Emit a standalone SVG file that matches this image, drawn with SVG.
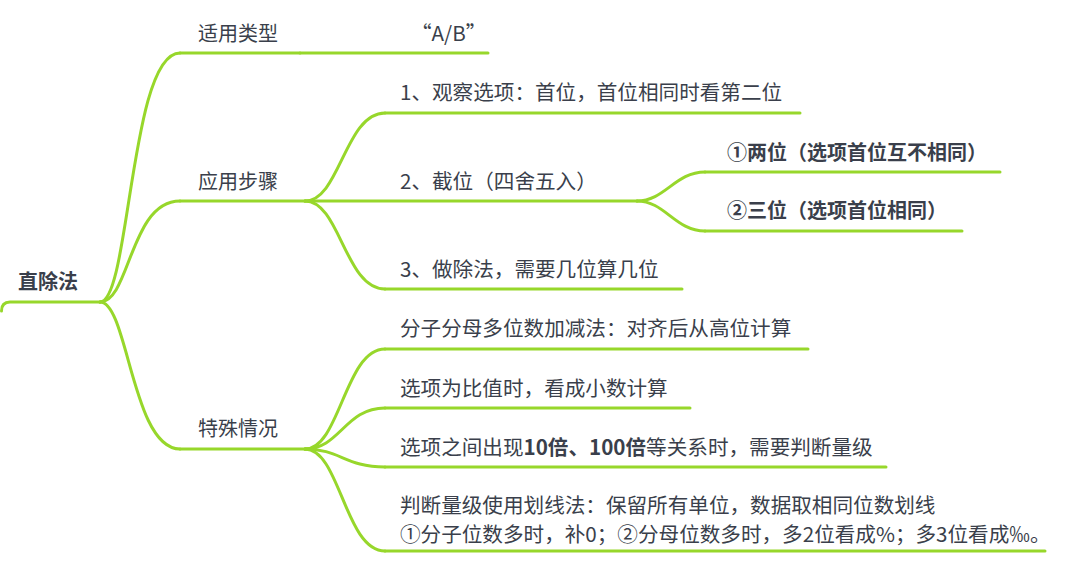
<svg xmlns="http://www.w3.org/2000/svg" width="1080" height="575" viewBox="0 0 1080 575">
<style>
.ln{fill:none;stroke:#97d72b;stroke-width:3;stroke-linecap:round}
text{font-family:"Microsoft YaHei","Noto Sans CJK SC","Noto Sans",sans-serif;fill:#3a3f4b}
.l1{font-size:20px}
.l2{font-size:20.6px}
.gc{font-size:20px;font-weight:bold}
.root{font-size:20px;font-weight:bold}
</style>
<rect width="1080" height="575" fill="#ffffff"/>
<g id="connectors">
<path class="ln" d="M100,302 C130,302 130,53 180,53"/>
<path class="ln" d="M100,302 C130,302 130,201 180,201"/>
<path class="ln" d="M100,302 C128,302 132,449 180,449"/>
<path class="ln" d="M305,201 C340,201 345,113 385,113"/>
<path class="ln" d="M305,201 C340,201 345,289 385,289"/>
<path class="ln" d="M637,201 C665,201 675,172 705,172"/>
<path class="ln" d="M637,201 C665,201 675,231 705,231"/>
<path class="ln" d="M305,449 C340,449 345,349 385,349"/>
<path class="ln" d="M305,449 C340,449 345,408 385,408"/>
<path class="ln" d="M305,449 C340,449 345,467 385,467"/>
<path class="ln" d="M305,449 C340,449 345,551 385,551"/>
</g>
<g id="root">
<path class="ln" d="M1.5,311 Q1.5,302 10,302 L100,302"/>
<text class="root" x="18" y="289">直除法</text>
</g>
<g id="n-type">
<path class="ln" d="M180,53 L300,53"/>
<text class="l1" x="198" y="41">适用类型</text>
</g>
<g id="n-ab">
<path class="ln" d="M300,53 L488,53"/>
<text class="l2" x="411" y="41">“A/B”</text>
</g>
<g id="n-steps">
<path class="ln" d="M180,201 L305,201"/>
<text class="l1" x="198" y="189">应用步骤</text>
</g>
<g id="n-step1">
<path class="ln" d="M385,113 L800,113"/>
<text class="l2" x="400" y="100">1、观察选项：首位，首位相同时看第二位</text>
</g>
<g id="n-step2">
<path class="ln" d="M305,201 L637,201"/>
<text class="l2" x="400" y="189">2、截位（四舍五入）</text>
</g>
<g id="n-two">
<path class="ln" d="M705,172 L1000,172"/>
<text class="gc" x="727" y="160">①两位（选项首位互不相同）</text>
</g>
<g id="n-three">
<path class="ln" d="M705,231 L962,231"/>
<text class="gc" x="727" y="218">②三位（选项首位相同）</text>
</g>
<g id="n-step3">
<path class="ln" d="M385,289 L682,289"/>
<text class="l2" x="400" y="277">3、做除法，需要几位算几位</text>
</g>
<g id="n-special">
<path class="ln" d="M180,449 L305,449"/>
<text class="l1" x="198" y="436">特殊情况</text>
</g>
<g id="n-s1">
<path class="ln" d="M385,349 L808,349"/>
<text class="l2" x="400" y="336">分子分母多位数加减法：对齐后从高位计算</text>
</g>
<g id="n-s2">
<path class="ln" d="M385,408 L690,408"/>
<text class="l2" x="400" y="396">选项为比值时，看成小数计算</text>
</g>
<g id="n-s3">
<path class="ln" d="M385,467 L886,467"/>
<text class="l2" x="400" y="455">选项之间出现<tspan font-weight="bold">10倍、100倍</tspan>等关系时，需要判断量级</text>
</g>
<g id="n-s4">
<path class="ln" d="M385,551 L1045,551"/>
<text class="l2" x="400" y="513">判断量级使用划线法：保留所有单位，数据取相同位数划线</text>
<text class="l2" x="400" y="542">①分子位数多时，补0；②分母位数多时，多2位看成%；多3位看成‰。</text>
</g>
</svg>
